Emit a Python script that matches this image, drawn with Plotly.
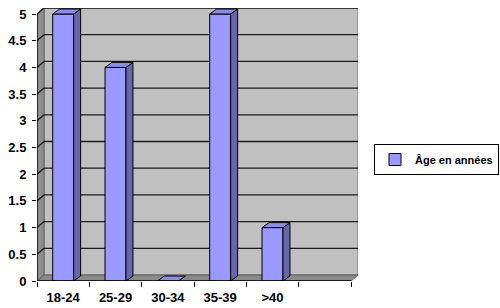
import plotly.graph_objects as go

categories = ["18-24", "25-29", "30-34", "35-39", ">40"]
values = [5, 4, 0, 5, 1]
series_name = "Âge en années"
y_ticks = [0, 0.5, 1, 1.5, 2, 2.5, 3, 3.5, 4, 4.5, 5]
n_slots = 6  # Excel axis keeps one empty slot at the right

W, H = 500, 308
L, R, T, B = 37, 2, 8, 27
plot_right = 358
paper_w = W - L - R
plot_w = plot_right - L
plot_h = H - T - B
unit_x = (plot_w - 7) / n_slots
unit_y = (plot_h - 6) / y_ticks[-1]
dx, dy = 7 / unit_x, 6 / unit_y        # wall depth (data units)
bdx, bdy = 7 / unit_x, 5 / unit_y      # bar depth
bw = 0.4

x0, x1 = -0.5, n_slots - 0.5
ymax = y_ticks[-1]

shapes = []
shapes.append(dict(type="rect", xref="x", yref="y", x0=x0 + dx, x1=x1 + dx, y0=dy, y1=ymax + dy,
                   fillcolor="#C0C0C0", line=dict(color="#707070", width=1), layer="below"))
shapes.append(dict(type="path", xref="x", yref="y",
                   path=f"M {x0},0 L {x0},{ymax} L {x0+dx},{ymax+dy} L {x0+dx},{dy} Z",
                   fillcolor="#8E8E8E", line=dict(color="#606060", width=1), layer="below"))
shapes.append(dict(type="path", xref="x", yref="y",
                   path=f"M {x0},0 L {x1},0 L {x1+dx},{dy} L {x0+dx},{dy} Z",
                   fillcolor="#8A8A8A", line=dict(color="#606060", width=1), layer="below"))
for v in y_ticks[1:]:
    shapes.append(dict(type="line", xref="x", yref="y", x0=x0 + dx, x1=x1 + dx, y0=v + dy, y1=v + dy,
                       line=dict(color="#1a1a1a", width=1.3), layer="below"))
    shapes.append(dict(type="line", xref="x", yref="y", x0=x0, x1=x0 + dx, y0=v, y1=v + dy,
                       line=dict(color="#1a1a1a", width=1.3), layer="below"))
shapes.append(dict(type="line", xref="x", yref="y", x0=x0, x1=x1, y0=0, y1=0,
                   line=dict(color="black", width=1.3)))
shapes.append(dict(type="line", xref="x", yref="y", x0=x0, x1=x0, y0=0, y1=ymax,
                   line=dict(color="black", width=1.3)))

fig = go.Figure()
xs = list(range(len(categories)))
fig.add_trace(go.Bar(x=xs, y=values, width=bw, name=series_name,
                     marker=dict(color="#9999FF", line=dict(color="black", width=1)),
                     hoverinfo="skip"))

side_x, side_y, top_x, top_y = [], [], [], []
for i, v in zip(xs, values):
    r = i + bw / 2
    l = i - bw / 2
    side_x += [r, r, r + bdx, r + bdx, r, None]
    side_y += [0, v, v + bdy, bdy, 0, None]
    top_x += [l, r, r + bdx, l + bdx, l, None]
    top_y += [v, v, v + bdy, v + bdy, v, None]
fig.add_trace(go.Scatter(x=side_x, y=side_y, fill="toself", fillcolor="#6666AA", mode="lines",
                         line=dict(color="black", width=1), showlegend=False, hoverinfo="skip"))
fig.add_trace(go.Scatter(x=top_x, y=top_y, fill="toself", fillcolor="#8C8CEE", mode="lines",
                         line=dict(color="black", width=1), showlegend=False, hoverinfo="skip"))

tickfont = dict(family="Liberation Sans", size=13, color="black", weight=700)
fig.update_layout(
    width=W, height=H,
    margin=dict(l=L, r=R, t=T, b=B, pad=0, autoexpand=False),
    paper_bgcolor="white", plot_bgcolor="rgba(0,0,0,0)",
    shapes=shapes,
    showlegend=True,
    legend=dict(x=(374 - L) / paper_w, y=(H - B - 144) / plot_h, xanchor="left", yanchor="top",
                bordercolor="black", borderwidth=1, bgcolor="white",
                font=dict(family="Liberation Sans", size=11, color="black", weight=700),
                itemwidth=30, tracegroupgap=0),
    xaxis=dict(domain=[0, plot_w / paper_w], range=[x0, x1 + dx], tickvals=xs, ticktext=categories,
               ticks="", showgrid=False, zeroline=False, showline=False, tickfont=tickfont,
               ticklabelstandoff=7,
               minor=dict(tickvals=[k - 0.5 for k in range(n_slots + 1)], ticks="outside",
                          ticklen=5, tickcolor="black", tickwidth=1, showgrid=False)),
    yaxis=dict(range=[0, ymax + dy], tickvals=y_ticks, ticktext=[f"{v:g}" for v in y_ticks],
               ticks="outside", ticklen=4, tickcolor="black", showgrid=False, zeroline=False,
               showline=False, tickfont=tickfont, ticklabelstandoff=3),
)
fig.write_html("out.html")
